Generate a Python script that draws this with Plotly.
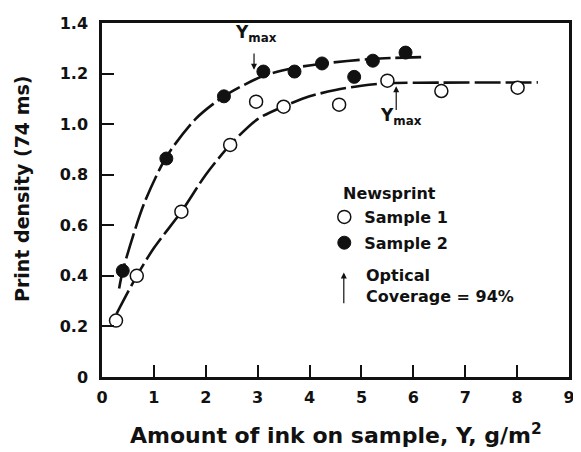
import plotly.graph_objects as go

# Data
s1_x = [0.27, 0.67, 1.53, 2.47, 2.97, 3.50, 4.57, 5.50, 6.54, 8.01]
s1_y = [0.223, 0.40, 0.654, 0.918, 1.089, 1.069, 1.077, 1.172, 1.131, 1.144]
s2_x = [0.40, 1.24, 2.35, 3.11, 3.71, 4.24, 4.86, 5.22, 5.85]
s2_y = [0.42, 0.864, 1.11, 1.208, 1.208, 1.24, 1.187, 1.251, 1.283]

# Fitted curves
c1_x = [0.28, 0.67, 1.0, 1.53, 2.0, 2.47, 3.0, 3.5, 4.0, 4.5, 5.0, 5.5, 6.5, 8.4]
c1_y = [0.25, 0.40, 0.51, 0.654, 0.80, 0.918, 1.02, 1.07, 1.11, 1.135, 1.152, 1.162, 1.164, 1.165]
c2_x = [0.33, 0.40, 0.8, 1.24, 1.8, 2.35, 3.1, 3.7, 4.2, 5.2, 6.15]
c2_y = [0.35, 0.42, 0.68, 0.87, 1.02, 1.11, 1.19, 1.222, 1.238, 1.258, 1.265]

x_ticks = [0, 1, 2, 3, 4, 5, 6, 7, 8, 9]
y_ticks = [0, 0.2, 0.4, 0.6, 0.8, 1.0, 1.2, 1.4]
y_tick_text = ["0", "0.2", "0.4", "0.6", "0.8", "1.0", "1.2", "1.4"]

FONT = "DejaVu Sans"
BLACK = "#111111"

fig = go.Figure()
dash = "26px,5px"
for cx, cy in ((c1_x, c1_y), (c2_x, c2_y)):
    fig.add_trace(go.Scatter(x=cx, y=cy, mode="lines",
                             line=dict(color=BLACK, width=2.6, dash=dash, shape="spline", smoothing=0.8),
                             showlegend=False, hoverinfo="skip"))
fig.add_trace(go.Scatter(x=s1_x, y=s1_y, mode="markers", name="Sample 1", legendgroup="s1",
                         marker=dict(symbol="circle", size=13, color="white", line=dict(color=BLACK, width=1.5))))
fig.add_trace(go.Scatter(x=s2_x, y=s2_y, mode="markers", name="Sample 2", legendgroup="s2",
                         marker=dict(symbol="circle", size=13, color=BLACK, line=dict(color=BLACK, width=1))))

tickfont = dict(family=FONT, size=16, color=BLACK, weight="bold")
axis_common = dict(ticks="inside", ticklen=12, tickwidth=2, tickcolor=BLACK,
                   showline=True, linecolor=BLACK, linewidth=2.5, mirror=True,
                   showgrid=False, zeroline=False, tickfont=tickfont, ticklabeloverflow="allow")
# The page body adds an 8px margin, so the figure is 8px smaller and offset.
fig.update_layout(
    width=573, height=444,
    margin=dict(l=94, r=9, t=6, b=75),
    paper_bgcolor="white", plot_bgcolor="white",
    font=dict(family=FONT, color=BLACK, weight="bold"),
    xaxis=dict(range=[0, 9], tickvals=x_ticks, ticklabelstandoff=4, **axis_common),
    yaxis=dict(range=[0, 1.4], tickvals=y_ticks, ticktext=y_tick_text, ticklabelstandoff=8, **axis_common),
    legend=dict(x=0.476, y=0.5, xanchor="left", yanchor="top", bgcolor="rgba(0,0,0,0)",
                font=dict(family=FONT, size=16, weight="bold"), itemwidth=30, tracegroupgap=2),
    showlegend=True,
)

anns = [
    # axis titles
    dict(x=0.50, y=-0.16, xref="paper", yref="paper", xanchor="center", yanchor="middle",
         text="Amount of ink on sample, Y, g/m<sup>2</sup>", showarrow=False,
         font=dict(family=FONT, size=22, weight="bold")),
    dict(x=-0.17, y=0.53, xref="paper", yref="paper", xanchor="center", yanchor="middle", textangle=-90,
         text="Print density (74 ms)", showarrow=False,
         font=dict(family=FONT, size=19, weight="bold")),
    # upper Ymax
    dict(x=2.93, y=1.215, ax=2.93, ay=1.285, xref="x", yref="y", axref="x", ayref="y", text="",
         showarrow=True, arrowhead=2, arrowsize=1, arrowwidth=1.2, arrowcolor=BLACK),
    dict(x=2.96, y=1.36, xref="x", yref="y", text="Y<sub>max</sub>", showarrow=False,
         font=dict(family=FONT, size=17, weight="bold")),
    # lower Ymax
    dict(x=5.67, y=1.15, ax=5.67, ay=1.05, xref="x", yref="y", axref="x", ayref="y", text="",
         showarrow=True, arrowhead=2, arrowsize=1, arrowwidth=1.2, arrowcolor=BLACK),
    dict(x=5.76, y=1.03, xref="x", yref="y", text="Y<sub>max</sub>", showarrow=False,
         font=dict(family=FONT, size=17, weight="bold")),
    # legend heading
    dict(x=4.61, y=0.725, xref="x", yref="y", xanchor="left", yanchor="middle",
         text="Newsprint", showarrow=False, font=dict(family=FONT, size=16, weight="bold")),
    # legend note
    dict(x=4.66, y=0.413, ax=4.66, ay=0.286, xref="x", yref="y", axref="x", ayref="y", text="",
         showarrow=True, arrowhead=2, arrowsize=1, arrowwidth=1.2, arrowcolor=BLACK),
    dict(x=5.05, y=0.36, xref="x", yref="y", xanchor="left", yanchor="middle", align="left",
         text="Optical<br>Coverage = 94%", showarrow=False,
         font=dict(family=FONT, size=16, weight="bold")),
]
fig.update_layout(annotations=anns)

fig.write_html("out.html")
